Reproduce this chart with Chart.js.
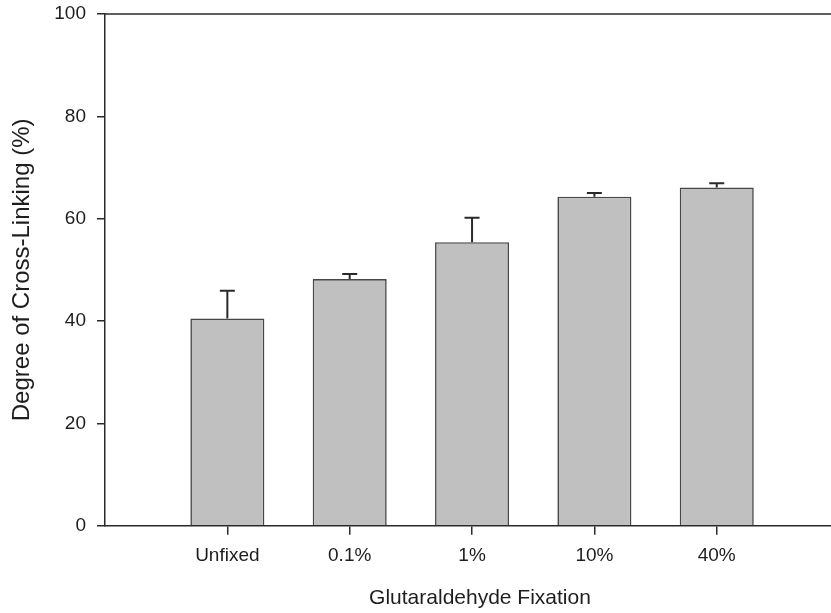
<!DOCTYPE html>
<html>
<head>
<meta charset="utf-8">
<script src="https://cdn.jsdelivr.net/npm/chart.js@4/dist/chart.umd.min.js"></script>
<style>
  html, body { margin: 0; padding: 0; background: #fff; overflow: hidden; }
  #wrap { width: 860px; height: 613px; }
</style>
</head>
<body>
<div id="wrap"><canvas id="c" width="860" height="613"></canvas></div>
<script>
// Glutaraldehyde fixation groups and measured cross-linking (mean + SD, %)
const categories = ['Unfixed', '0.1%', '1%', '10%', '40%'];
const means = [40.5, 48.2, 55.4, 64.3, 66.1];
const errors = [5.4, 1.0, 4.8, 0.7, 0.8];
const yTicks = [0, 20, 40, 60, 80, 100];

const FONT = '"Liberation Sans", Arial, Helvetica, sans-serif';
const INK = '#1e1e1e';

// Upward-only error bars, positioned through the chart's own scales
const errorBars = {
  id: 'errorBars',
  afterDatasetsDraw(chart) {
    const { ctx, scales: { x, y } } = chart;
    ctx.save();
    ctx.strokeStyle = '#2a2a2a';
    ctx.lineWidth = 2;
    means.forEach((m, i) => {
      const px = x.getPixelForValue(i);
      const y0 = y.getPixelForValue(m);
      const y1 = y.getPixelForValue(m + errors[i]);
      ctx.beginPath();
      ctx.moveTo(px, y0);
      ctx.lineTo(px, y1);
      ctx.moveTo(px - 7.5, y1);
      ctx.lineTo(px + 7.5, y1);
      ctx.stroke();
    });
    ctx.restore();
  }
};

// Top frame line across the plot
const topFrame = {
  id: 'topFrame',
  afterDraw(chart) {
    const { ctx, chartArea: a } = chart;
    ctx.save();
    ctx.strokeStyle = '#2a2a2a';
    ctx.lineWidth = 1.5;
    ctx.beginPath();
    ctx.moveTo(a.left, a.top);
    ctx.lineTo(a.right, a.top);
    ctx.stroke();
    ctx.restore();
  }
};

new Chart(document.getElementById('c'), {
  type: 'bar',
  data: {
    datasets: [{
      data: categories.map((c, i) => ({ x: i, y: means[i] })),
      backgroundColor: '#c0c0c0',
      borderColor: '#474747',
      borderWidth: 1.6,
      categoryPercentage: 1,
      barPercentage: 0.605
    }]
  },
  options: {
    responsive: false,
    animation: false,
    events: [],
    layout: { padding: { top: 14, left: 0, right: 5, bottom: 0 } },
    plugins: { legend: { display: false }, tooltip: { enabled: false } },
    scales: {
      x: {
        type: 'linear',
        min: -1,
        max: 5.13,
        offset: false,
        afterBuildTicks(scale) { scale.ticks = categories.map((c, i) => ({ value: i })); },
        afterFit(scale) { scale.height = 87.3; scale.paddingLeft = 0; scale.paddingRight = 0; },
        ticks: {
          callback: (v) => categories[v],
          font: { family: FONT, size: 19 },
          color: INK,
          padding: 10,
          maxRotation: 0,
          autoSkip: false
        },
        grid: { display: true, offset: false, drawOnChartArea: false, drawTicks: true, tickLength: 9, color: '#2a2a2a', lineWidth: 1.5 },
        border: { display: true, color: '#2a2a2a', width: 1.5 },
        title: {
          display: true,
          text: 'Glutaraldehyde Fixation',
          font: { family: FONT, size: 21 },
          color: INK,
          padding: { top: 0, bottom: 2.5 }
        }
      },
      y: {
        min: 0,
        max: 100,
        afterBuildTicks(scale) { scale.ticks = yTicks.map(v => ({ value: v })); },
        afterFit(scale) { scale.width = 105; scale.paddingTop = 0; scale.paddingBottom = 0; },
        ticks: {
          font: { family: FONT, size: 19 },
          color: INK,
          padding: 11
        },
        grid: { display: true, drawOnChartArea: false, drawTicks: true, tickLength: 8, color: '#2a2a2a', lineWidth: 1.5 },
        border: { display: true, color: '#2a2a2a', width: 1.5 },
        title: {
          display: true,
          text: 'Degree of Cross-Linking (%)',
          font: { family: FONT, size: 24 },
          color: INK,
          padding: { top: 7.5, bottom: 0 }
        }
      }
    }
  },
  plugins: [errorBars, topFrame]
});
</script>
</body>
</html>
